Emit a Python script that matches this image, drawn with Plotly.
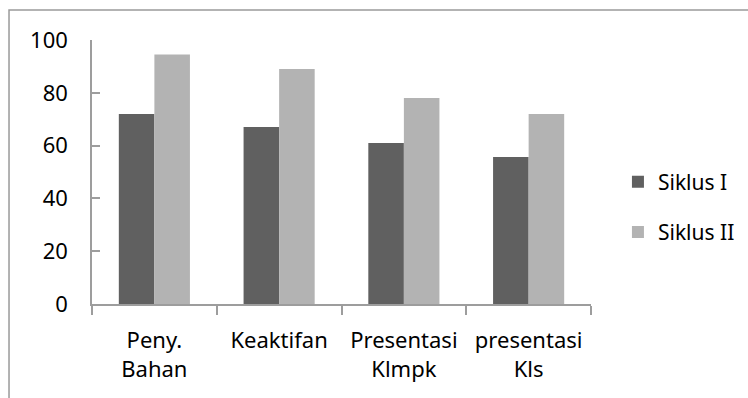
import plotly.graph_objects as go

# Categories and series values
categories = ["Peny.<br>Bahan", "Keaktifan", "Presentasi<br>Klmpk", "presentasi<br>Kls"]
siklus_1 = [72, 67, 61, 55.7]
siklus_2 = [94.5, 89, 78, 72]
y_ticks = [0, 20, 40, 60, 80, 100]

FONT = "Noto Sans"
AXIS_COLOR = "#9d9d9d"

fig = go.Figure()
fig.add_trace(go.Bar(name="Siklus I", x=categories, y=siklus_1,
                     marker=dict(color="#606060", line=dict(width=0)),
                     legendgroup="a"))
fig.add_trace(go.Bar(name="Siklus II", x=categories, y=siklus_2,
                     marker=dict(color="#b3b3b3", line=dict(width=0)),
                     legendgroup="b"))

fig.update_layout(
    width=748, height=398,
    margin=dict(l=92, r=157, t=40, b=94, autoexpand=False),
    paper_bgcolor="white", plot_bgcolor="white",
    barmode="group", bargap=0.43, bargroupgap=0,
    font=dict(family=FONT, size=22, color="#000000"),
    showlegend=True,
    legend=dict(x=1.054, y=0.367, xanchor="left", yanchor="middle",
                traceorder="grouped", tracegroupgap=20,
                font=dict(family=FONT, size=21, color="#000000"),
                itemwidth=30, bgcolor="rgba(0,0,0,0)"),
    xaxis=dict(showline=True, linecolor=AXIS_COLOR, linewidth=1.5,
               ticks="outside", ticklen=9, tickcolor=AXIS_COLOR, tickwidth=1.5,
               tickson="boundaries", showgrid=False, zeroline=False,
               ticklabelstandoff=16,
               tickfont=dict(family=FONT, size=22, color="#000000")),
    yaxis=dict(range=[0, 100], tickvals=y_ticks, showline=True,
               linecolor=AXIS_COLOR, linewidth=1.5,
               ticks="inside", ticklen=8, tickcolor=AXIS_COLOR, tickwidth=1.5,
               showgrid=False, zeroline=False, ticklabelstandoff=18,
               tickfont=dict(family=FONT, size=22, color="#000000")),
    shapes=[dict(type="rect", xref="paper", yref="paper",
                 x0=-0.1663, x1=2, y0=-1, y1=1.1136,
                 line=dict(color="#9a9a9a", width=1.5), layer="below")],
)

fig.write_html("out.html")
